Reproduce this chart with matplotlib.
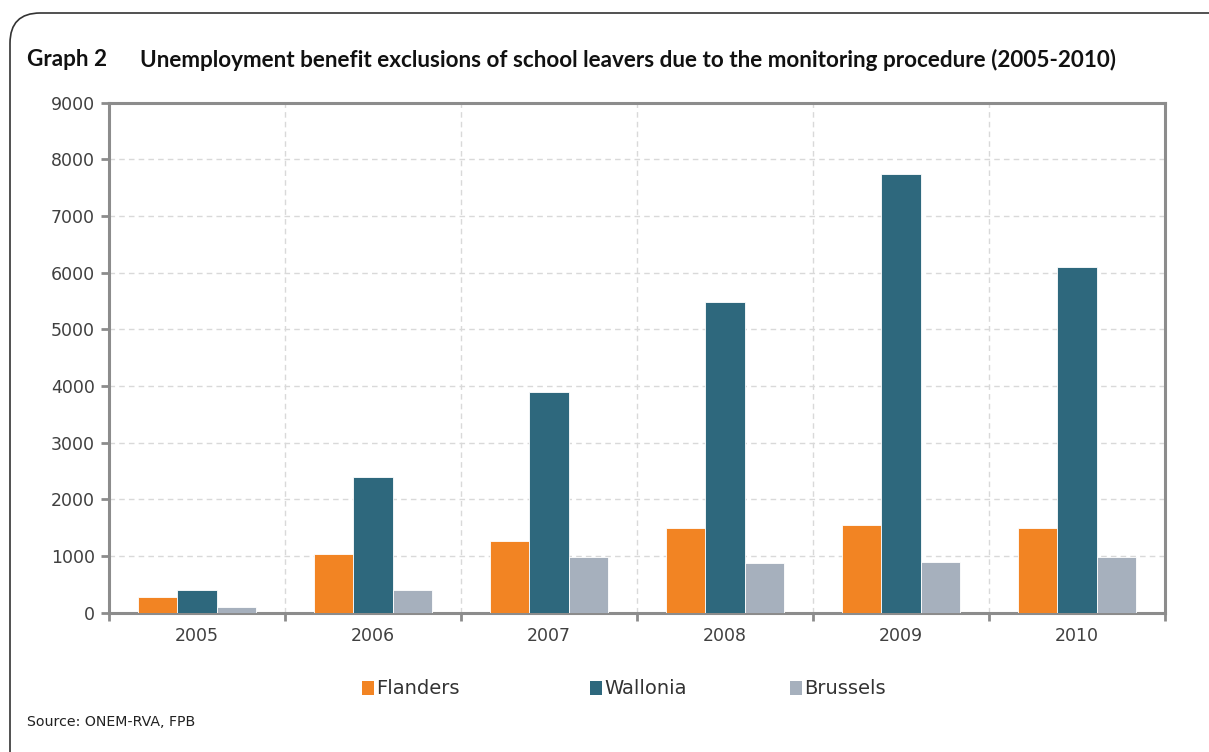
import matplotlib
matplotlib.use("Agg")
import matplotlib.pyplot as plt
from matplotlib.patches import FancyBboxPatch, Patch
import numpy as np

years = ["2005", "2006", "2007", "2008", "2009", "2010"]
flanders = [270, 1040, 1270, 1490, 1540, 1500]
wallonia = [400, 2390, 3890, 5480, 7740, 6100]
brussels = [100, 400, 980, 880, 890, 990]
series_names = ["Flanders", "Wallonia", "Brussels"]
colors = ["#F28423", "#2E687D", "#A6B0BD"]
y_ticks = list(range(0, 9001, 1000))

W, H = 1209, 752
fig = plt.figure(figsize=(W / 100, H / 100), dpi=100)
fig.patch.set_facecolor("white")

# rounded frame around the whole graph (right and bottom edges run off the page)
frame = FancyBboxPatch((10 / W, -0.2), 1.2, 1 - 13 / H + 0.2,
                       boxstyle="round,pad=0,rounding_size=0.025",
                       transform=fig.transFigure, fill=False,
                       edgecolor="#333333", linewidth=1.2,
                       mutation_aspect=W / H)
fig.patches.append(frame)

ax = fig.add_axes([109 / W, 1 - 612.7 / H, (1165 - 109) / W, (612.7 - 102.7) / H])

x = np.arange(len(years))
bw = 0.222
for i, (vals, name, c) in enumerate(zip([flanders, wallonia, brussels], series_names, colors)):
    ax.bar(x + (i - 1) * bw, vals, width=bw, color=c, edgecolor="white",
           linewidth=0.6, label=name, zorder=3)

ax.set_xlim(-0.5, len(years) - 0.5)
ax.set_ylim(0, 9000)
ax.set_yticks(y_ticks)
ax.set_yticklabels([str(v) for v in y_ticks])

# category boundaries carry the ticks; labels sit at the centres
ax.set_xticks(np.arange(-0.5, len(years)), minor=False)
ax.set_xticklabels([])
ax.set_xticks(x, minor=True)
ax.set_xticklabels(years, minor=True)
ax.tick_params(axis="x", which="minor", length=0, pad=10, labelsize=12.5, labelcolor="#404040")
ax.tick_params(axis="x", which="major", length=6, width=2, color="#8c8c8c", direction="out")
ax.tick_params(axis="y", length=6, width=2, color="#8c8c8c", direction="out",
               labelsize=12.5, labelcolor="#404040", pad=4)

ax.grid(True, axis="both", which="major", color="#d9d9d9", linestyle=(0, (4, 3)),
        linewidth=1.0, zorder=0)
for s in ax.spines.values():
    s.set_color("#8c8c8c")
    s.set_linewidth(2.2)

fig.text(27 / W, 1 - 60 / H, "Graph 2", fontsize=16.2, fontweight="bold",
         family="Lato", va="center", ha="left", color="#111111")
fig.text(140 / W, 1 - 60 / H,
         "Unemployment benefit exclusions of school leavers due to the monitoring procedure (2005-2010)",
         fontsize=16.2, fontweight="bold", family="Lato", va="center", ha="left", color="#111111")

# one legend entry per slot along the bottom
legend_x = [362, 590, 790]
for name, c, lx in zip(series_names, colors, legend_x):
    fig.legend([Patch(facecolor=c, edgecolor="none")], [name], loc="center left",
               bbox_to_anchor=(lx / W, 1 - 689 / H), frameon=False, fontsize=14,
               handlelength=0.6, handleheight=0.75, handletextpad=0.15,
               borderpad=0, borderaxespad=0, labelcolor="#333333")

fig.text(27 / W, 1 - 722 / H, "Source: ONEM-RVA, FPB", fontsize=10.2,
         va="center", ha="left", color="#222222")

fig.savefig("out.png", dpi=100, facecolor="white")
